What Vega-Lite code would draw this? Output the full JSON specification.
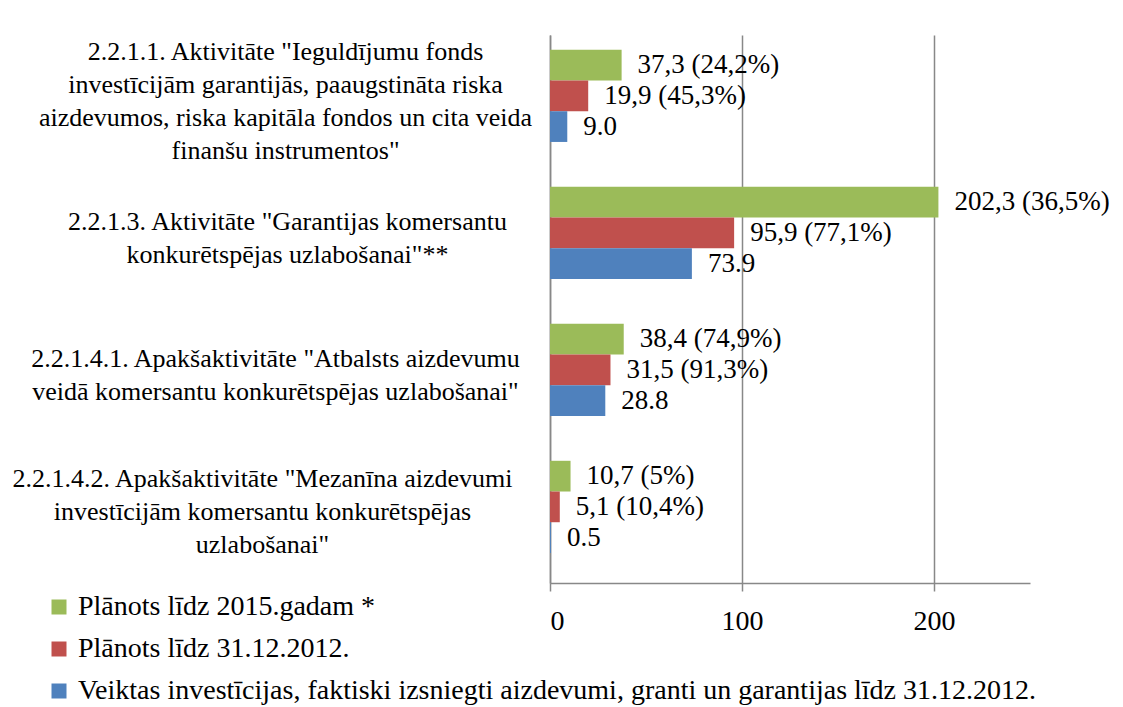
{
  "$schema": "https://vega.github.io/schema/vega-lite/v6.json",
  "width": 480,
  "height": 548,
  "autosize": {"type": "none"},
  "padding": {"left": 550, "top": 35, "right": 93, "bottom": 124},
  "background": "white",
  "config": {
    "font": "Liberation Serif, Times New Roman, DejaVu Serif, serif",
    "view": {"stroke": null}
  },
  "data": {
    "values": [
      {"cat": "2.2.1.1. Aktivitāte \"Ieguldījumu fonds|investīcijām garantijās, paaugstināta riska|aizdevumos, riska kapitāla fondos un cita veida|finanšu instrumentos\"", "order": 1, "series": "Plānots līdz 2015.gadam *", "s": 1, "value": 37.3, "label": "37,3 (24,2%)"},
      {"cat": "2.2.1.1. Aktivitāte \"Ieguldījumu fonds|investīcijām garantijās, paaugstināta riska|aizdevumos, riska kapitāla fondos un cita veida|finanšu instrumentos\"", "order": 1, "series": "Plānots līdz 31.12.2012.", "s": 2, "value": 19.9, "label": "19,9 (45,3%)"},
      {"cat": "2.2.1.1. Aktivitāte \"Ieguldījumu fonds|investīcijām garantijās, paaugstināta riska|aizdevumos, riska kapitāla fondos un cita veida|finanšu instrumentos\"", "order": 1, "series": "Veiktas investīcijas, faktiski izsniegti aizdevumi, granti un garantijas līdz 31.12.2012.", "s": 3, "value": 9.0, "label": "9.0"},
      {"cat": "2.2.1.3. Aktivitāte \"Garantijas komersantu|konkurētspējas uzlabošanai\"**", "order": 2, "series": "Plānots līdz 2015.gadam *", "s": 1, "value": 202.3, "label": "202,3 (36,5%)"},
      {"cat": "2.2.1.3. Aktivitāte \"Garantijas komersantu|konkurētspējas uzlabošanai\"**", "order": 2, "series": "Plānots līdz 31.12.2012.", "s": 2, "value": 95.9, "label": "95,9 (77,1%)"},
      {"cat": "2.2.1.3. Aktivitāte \"Garantijas komersantu|konkurētspējas uzlabošanai\"**", "order": 2, "series": "Veiktas investīcijas, faktiski izsniegti aizdevumi, granti un garantijas līdz 31.12.2012.", "s": 3, "value": 73.9, "label": "73.9"},
      {"cat": "2.2.1.4.1. Apakšaktivitāte \"Atbalsts aizdevumu|veidā komersantu konkurētspējas uzlabošanai\"", "order": 3, "series": "Plānots līdz 2015.gadam *", "s": 1, "value": 38.4, "label": "38,4 (74,9%)"},
      {"cat": "2.2.1.4.1. Apakšaktivitāte \"Atbalsts aizdevumu|veidā komersantu konkurētspējas uzlabošanai\"", "order": 3, "series": "Plānots līdz 31.12.2012.", "s": 2, "value": 31.5, "label": "31,5 (91,3%)"},
      {"cat": "2.2.1.4.1. Apakšaktivitāte \"Atbalsts aizdevumu|veidā komersantu konkurētspējas uzlabošanai\"", "order": 3, "series": "Veiktas investīcijas, faktiski izsniegti aizdevumi, granti un garantijas līdz 31.12.2012.", "s": 3, "value": 28.8, "label": "28.8"},
      {"cat": "2.2.1.4.2. Apakšaktivitāte \"Mezanīna aizdevumi|investīcijām komersantu konkurētspējas|uzlabošanai\"", "order": 4, "series": "Plānots līdz 2015.gadam *", "s": 1, "value": 10.7, "label": "10,7 (5%)"},
      {"cat": "2.2.1.4.2. Apakšaktivitāte \"Mezanīna aizdevumi|investīcijām komersantu konkurētspējas|uzlabošanai\"", "order": 4, "series": "Plānots līdz 31.12.2012.", "s": 2, "value": 5.1, "label": "5,1 (10,4%)"},
      {"cat": "2.2.1.4.2. Apakšaktivitāte \"Mezanīna aizdevumi|investīcijām komersantu konkurētspējas|uzlabošanai\"", "order": 4, "series": "Veiktas investīcijas, faktiski izsniegti aizdevumi, granti un garantijas līdz 31.12.2012.", "s": 3, "value": 0.5, "label": "0.5"}
    ]
  },
  "encoding": {
    "y": {
      "field": "cat",
      "type": "nominal",
      "sort": {"field": "order", "op": "min"},
      "scale": {"paddingInner": 0, "paddingOuter": 0},
      "axis": {
        "title": null,
        "labelExpr": "split(datum.value, '|')",
        "labelAlign": "center",
        "labelBaseline": "middle",
        "labelPadding": {
          "condition": [
            {"test": "indexof(datum.value, '2.2.1.1.') == 0", "value": 265},
            {"test": "indexof(datum.value, '2.2.1.3.') == 0", "value": 263},
            {"test": "indexof(datum.value, '2.2.1.4.1.') == 0", "value": 275}
          ],
          "value": 288
        },
        "labelFont": "Liberation Serif, Times New Roman, DejaVu Serif, serif",
        "labelFontSize": 26,
        "labelLineHeight": 33,
        "labelColor": "#000",
        "labelLimit": 0,
        "labelOffset": {
          "condition": [
            {"test": "indexof(datum.value, '2.2.1.1.') == 0", "value": -52},
            {"test": "indexof(datum.value, '2.2.1.4.2.') == 0", "value": -36}
          ],
          "value": -19
        },
        "ticks": false,
        "domainColor": "#888",
        "domainWidth": 1.5
      }
    },
    "yOffset": {"field": "s", "type": "ordinal", "scale": {"paddingInner": 0, "paddingOuter": 0.73, "align": 0.33}},
    "x": {
      "field": "value",
      "type": "quantitative",
      "scale": {"domain": [0, 250]},
      "axis": {
        "title": null,
        "values": [0, 100, 200],
        "labelFont": "Liberation Serif, Times New Roman, DejaVu Serif, serif",
        "labelFontSize": 28,
        "labelColor": "#000",
        "labelPadding": 16,
        "tickSize": 8,
        "tickColor": "#888",
        "tickWidth": 1.5,
        "domainColor": "#888",
        "domainWidth": 1.5,
        "grid": true,
        "gridColor": "#888",
        "gridWidth": 1.5
      }
    }
  },
  "layer": [
    {
      "mark": {"type": "bar", "stroke": null},
      "encoding": {
        "color": {
          "field": "series",
          "type": "nominal",
          "sort": ["Plānots līdz 2015.gadam *", "Plānots līdz 31.12.2012.", "Veiktas investīcijas, faktiski izsniegti aizdevumi, granti un garantijas līdz 31.12.2012."],
          "scale": {
            "domain": ["Plānots līdz 2015.gadam *", "Plānots līdz 31.12.2012.", "Veiktas investīcijas, faktiski izsniegti aizdevumi, granti un garantijas līdz 31.12.2012."],
            "range": ["#9BBB59", "#C0504D", "#4F81BD"]
          },
          "legend": {
            "title": null,
            "orient": "none",
            "legendX": -505,
            "legendY": 558,
            "direction": "vertical",
            "symbolType": "square",
            "symbolSize": 225,
            "symbolStrokeWidth": 0,
            "labelFont": "Liberation Serif, Times New Roman, DejaVu Serif, serif",
            "labelFontSize": 28,
            "labelColor": "#000",
            "labelLimit": 0,
            "rowPadding": 14,
            "labelOffset": 5
          }
        }
      }
    },
    {
      "mark": {"type": "text", "align": "left", "baseline": "middle", "dx": 16, "font": "Liberation Serif, Times New Roman, DejaVu Serif, serif", "fontSize": 27, "color": "#000"},
      "encoding": {"text": {"field": "label"}}
    }
  ]
}
